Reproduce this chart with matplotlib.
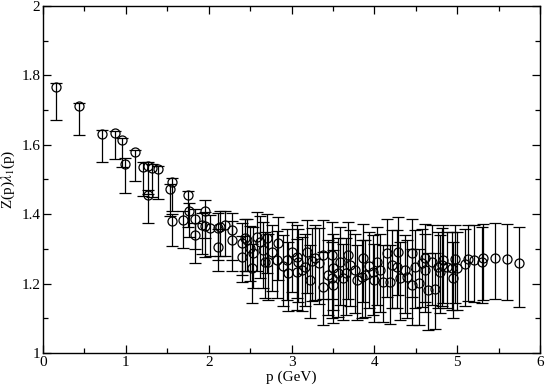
import matplotlib
matplotlib.use("Agg")
import matplotlib.pyplot as plt
from matplotlib.ticker import MultipleLocator, FixedLocator

# ---- data ----
p = [0.153, 0.435, 0.716, 0.866, 0.950, 0.994, 1.111, 1.204, 1.271, 1.271,
     1.312, 1.392, 1.554, 1.533, 1.554, 1.747, 1.766, 1.694, 1.835, 1.835,
     1.956, 1.916, 1.956, 2.016, 2.116, 2.137, 2.116, 2.197, 2.278, 2.278,
     2.399, 2.399, 2.439, 2.459, 2.499, 2.520, 2.580, 2.620, 2.701, 2.539,
     2.660, 2.680, 2.720, 2.841, 2.821, 2.942, 2.962, 3.003, 3.063, 3.082,
     3.063, 3.184, 3.163, 3.223, 3.284, 3.384, 3.384, 3.444, 3.486, 3.505,
     3.586, 3.486, 3.505, 3.626, 3.686, 3.706, 3.767, 3.787, 3.867, 3.848,
     3.888, 3.988, 4.029, 4.069, 4.150, 4.108, 4.189, 4.210, 4.270, 4.290,
     4.310, 4.391, 4.451, 4.491, 4.451, 4.543, 4.612, 4.612, 4.572, 4.693,
     4.652, 4.733, 4.773, 4.793, 4.833, 4.813, 4.874, 4.934, 4.974, 4.995,
     4.954, 5.095, 5.135, 5.207, 5.296, 5.316, 5.457, 5.598, 5.750,
     2.760, 2.900, 3.120, 3.330, 3.560, 3.930, 4.000, 4.370, 3.250, 3.660]
z = [1.767, 1.713, 1.630, 1.634, 1.614, 1.544, 1.580, 1.537, 1.539, 1.455,
     1.534, 1.529, 1.494, 1.472, 1.381, 1.454, 1.410, 1.383, 1.385, 1.339,
     1.410, 1.369, 1.366, 1.359, 1.359, 1.364, 1.306, 1.369, 1.354, 1.326,
     1.316, 1.278, 1.331, 1.326, 1.302, 1.244, 1.335, 1.321, 1.331, 1.287,
     1.297, 1.263, 1.263, 1.316, 1.268, 1.268, 1.230, 1.292, 1.278, 1.263,
     1.234, 1.292, 1.249, 1.210, 1.273, 1.282, 1.191, 1.225, 1.282, 1.244,
     1.263, 1.215, 1.196, 1.215, 1.282, 1.254, 1.239, 1.210, 1.273, 1.220,
     1.225, 1.234, 1.263, 1.239, 1.287, 1.205, 1.205, 1.254, 1.249, 1.292,
     1.215, 1.220, 1.287, 1.249, 1.196, 1.201, 1.273, 1.239, 1.258, 1.263,
     1.182, 1.184, 1.249, 1.234, 1.268, 1.254, 1.249, 1.244, 1.270, 1.244,
     1.215, 1.256, 1.270, 1.268, 1.263, 1.273, 1.275, 1.270, 1.258,
     1.290, 1.250, 1.240, 1.260, 1.230, 1.250, 1.210, 1.240, 1.265, 1.230]
err_hi = [0.010, 0.006, 0.013, 0.007, 0.006, 0.017, 0.005, 0.012, 0.010, 0.015,
          0.012, 0.009, 0.009, 0.015, 0.020, 0.013, 0.021, 0.025, 0.030, 0.035,
          0.030, 0.035, 0.040, 0.040, 0.045, 0.045, 0.050, 0.040, 0.050, 0.055,
          0.060, 0.060, 0.055, 0.060, 0.065, 0.070, 0.070, 0.075, 0.070, 0.075,
          0.080, 0.085, 0.080, 0.075, 0.085, 0.090, 0.090, 0.085, 0.090, 0.095,
          0.095, 0.090, 0.095, 0.100, 0.095, 0.100, 0.100, 0.100, 0.095, 0.100,
          0.100, 0.105, 0.100, 0.100, 0.095, 0.100, 0.105, 0.100, 0.100, 0.105,
          0.100, 0.105, 0.100, 0.105, 0.100, 0.105, 0.105, 0.100, 0.105, 0.100,
          0.105, 0.105, 0.100, 0.105, 0.105, 0.100, 0.100, 0.105, 0.100, 0.105,
          0.105, 0.105, 0.100, 0.105, 0.100, 0.105, 0.100, 0.105, 0.100, 0.105,
          0.105, 0.100, 0.100, 0.100, 0.100, 0.100, 0.100, 0.101, 0.106,
          0.080, 0.090, 0.095, 0.100, 0.100, 0.100, 0.105, 0.100, 0.095, 0.100]
err_lo = [0.096, 0.085, 0.080, 0.076, 0.077, 0.082, 0.084, 0.086, 0.080, 0.081,
          0.085, 0.086, 0.085, 0.078, 0.073, 0.090, 0.075, 0.080, 0.085, 0.079,
          0.080, 0.085, 0.090, 0.080, 0.090, 0.085, 0.070, 0.090, 0.085, 0.090,
          0.090, 0.073, 0.095, 0.090, 0.095, 0.100, 0.100, 0.105, 0.100, 0.100,
          0.110, 0.105, 0.110, 0.105, 0.110, 0.115, 0.110, 0.115, 0.120, 0.115,
          0.110, 0.120, 0.115, 0.110, 0.120, 0.125, 0.110, 0.115, 0.125, 0.120,
          0.125, 0.115, 0.110, 0.120, 0.125, 0.120, 0.125, 0.115, 0.125, 0.120,
          0.120, 0.125, 0.125, 0.120, 0.125, 0.115, 0.120, 0.125, 0.120, 0.125,
          0.120, 0.120, 0.125, 0.120, 0.115, 0.120, 0.125, 0.120, 0.125, 0.125,
          0.115, 0.115, 0.120, 0.120, 0.125, 0.120, 0.120, 0.120, 0.125, 0.120,
          0.115, 0.120, 0.120, 0.120, 0.120, 0.120, 0.120, 0.118, 0.125,
          0.110, 0.115, 0.120, 0.120, 0.125, 0.120, 0.120, 0.125, 0.115, 0.120]

x_ticks = [0, 1, 2, 3, 4, 5, 6]
x_labels = ["0", "1", "2", "3", "4", "5", "6"]
y_ticks = [1.0, 1.2, 1.4, 1.6, 1.8, 2.0]
y_labels = ["1", "1.2", "1.4", "1.6", "1.8", "2"]

plt.rcParams['font.family'] = ['Liberation Serif', 'DejaVu Serif']
plt.rcParams['mathtext.fontset'] = 'stix'

fig = plt.figure(figsize=(5.45, 3.86), dpi=100)
ax = fig.add_axes([0.079, 0.0855, 0.912, 0.899])

ax.errorbar(p, z, yerr=[err_lo, err_hi], fmt='o', mfc='none', mec='black',
            ms=6.5, mew=0.9, ecolor='black', elinewidth=0.9, capsize=4.6,
            capthick=0.9, color='black')

ax.set_xlim(0, 6)
ax.set_ylim(1, 2)
ax.xaxis.set_major_locator(FixedLocator(x_ticks))
ax.set_xticklabels(x_labels)
ax.yaxis.set_major_locator(FixedLocator(y_ticks))
ax.set_yticklabels(y_labels)
ax.xaxis.set_minor_locator(MultipleLocator(0.5))
ax.yaxis.set_minor_locator(MultipleLocator(0.1))
ax.tick_params(which='both', direction='in', top=True, right=True,
               labelsize=11, width=0.9, pad=2)
ax.tick_params(which='major', length=6)
ax.tick_params(which='minor', length=3.5)
for s in ax.spines.values():
    s.set_linewidth(1.0)

ax.set_xlabel("p (GeV)", fontsize=11, labelpad=1)
ax.set_ylabel(r"Z(p)$\lambda_1$(p)", fontsize=11, labelpad=3)

fig.savefig("out.png", dpi=100)
